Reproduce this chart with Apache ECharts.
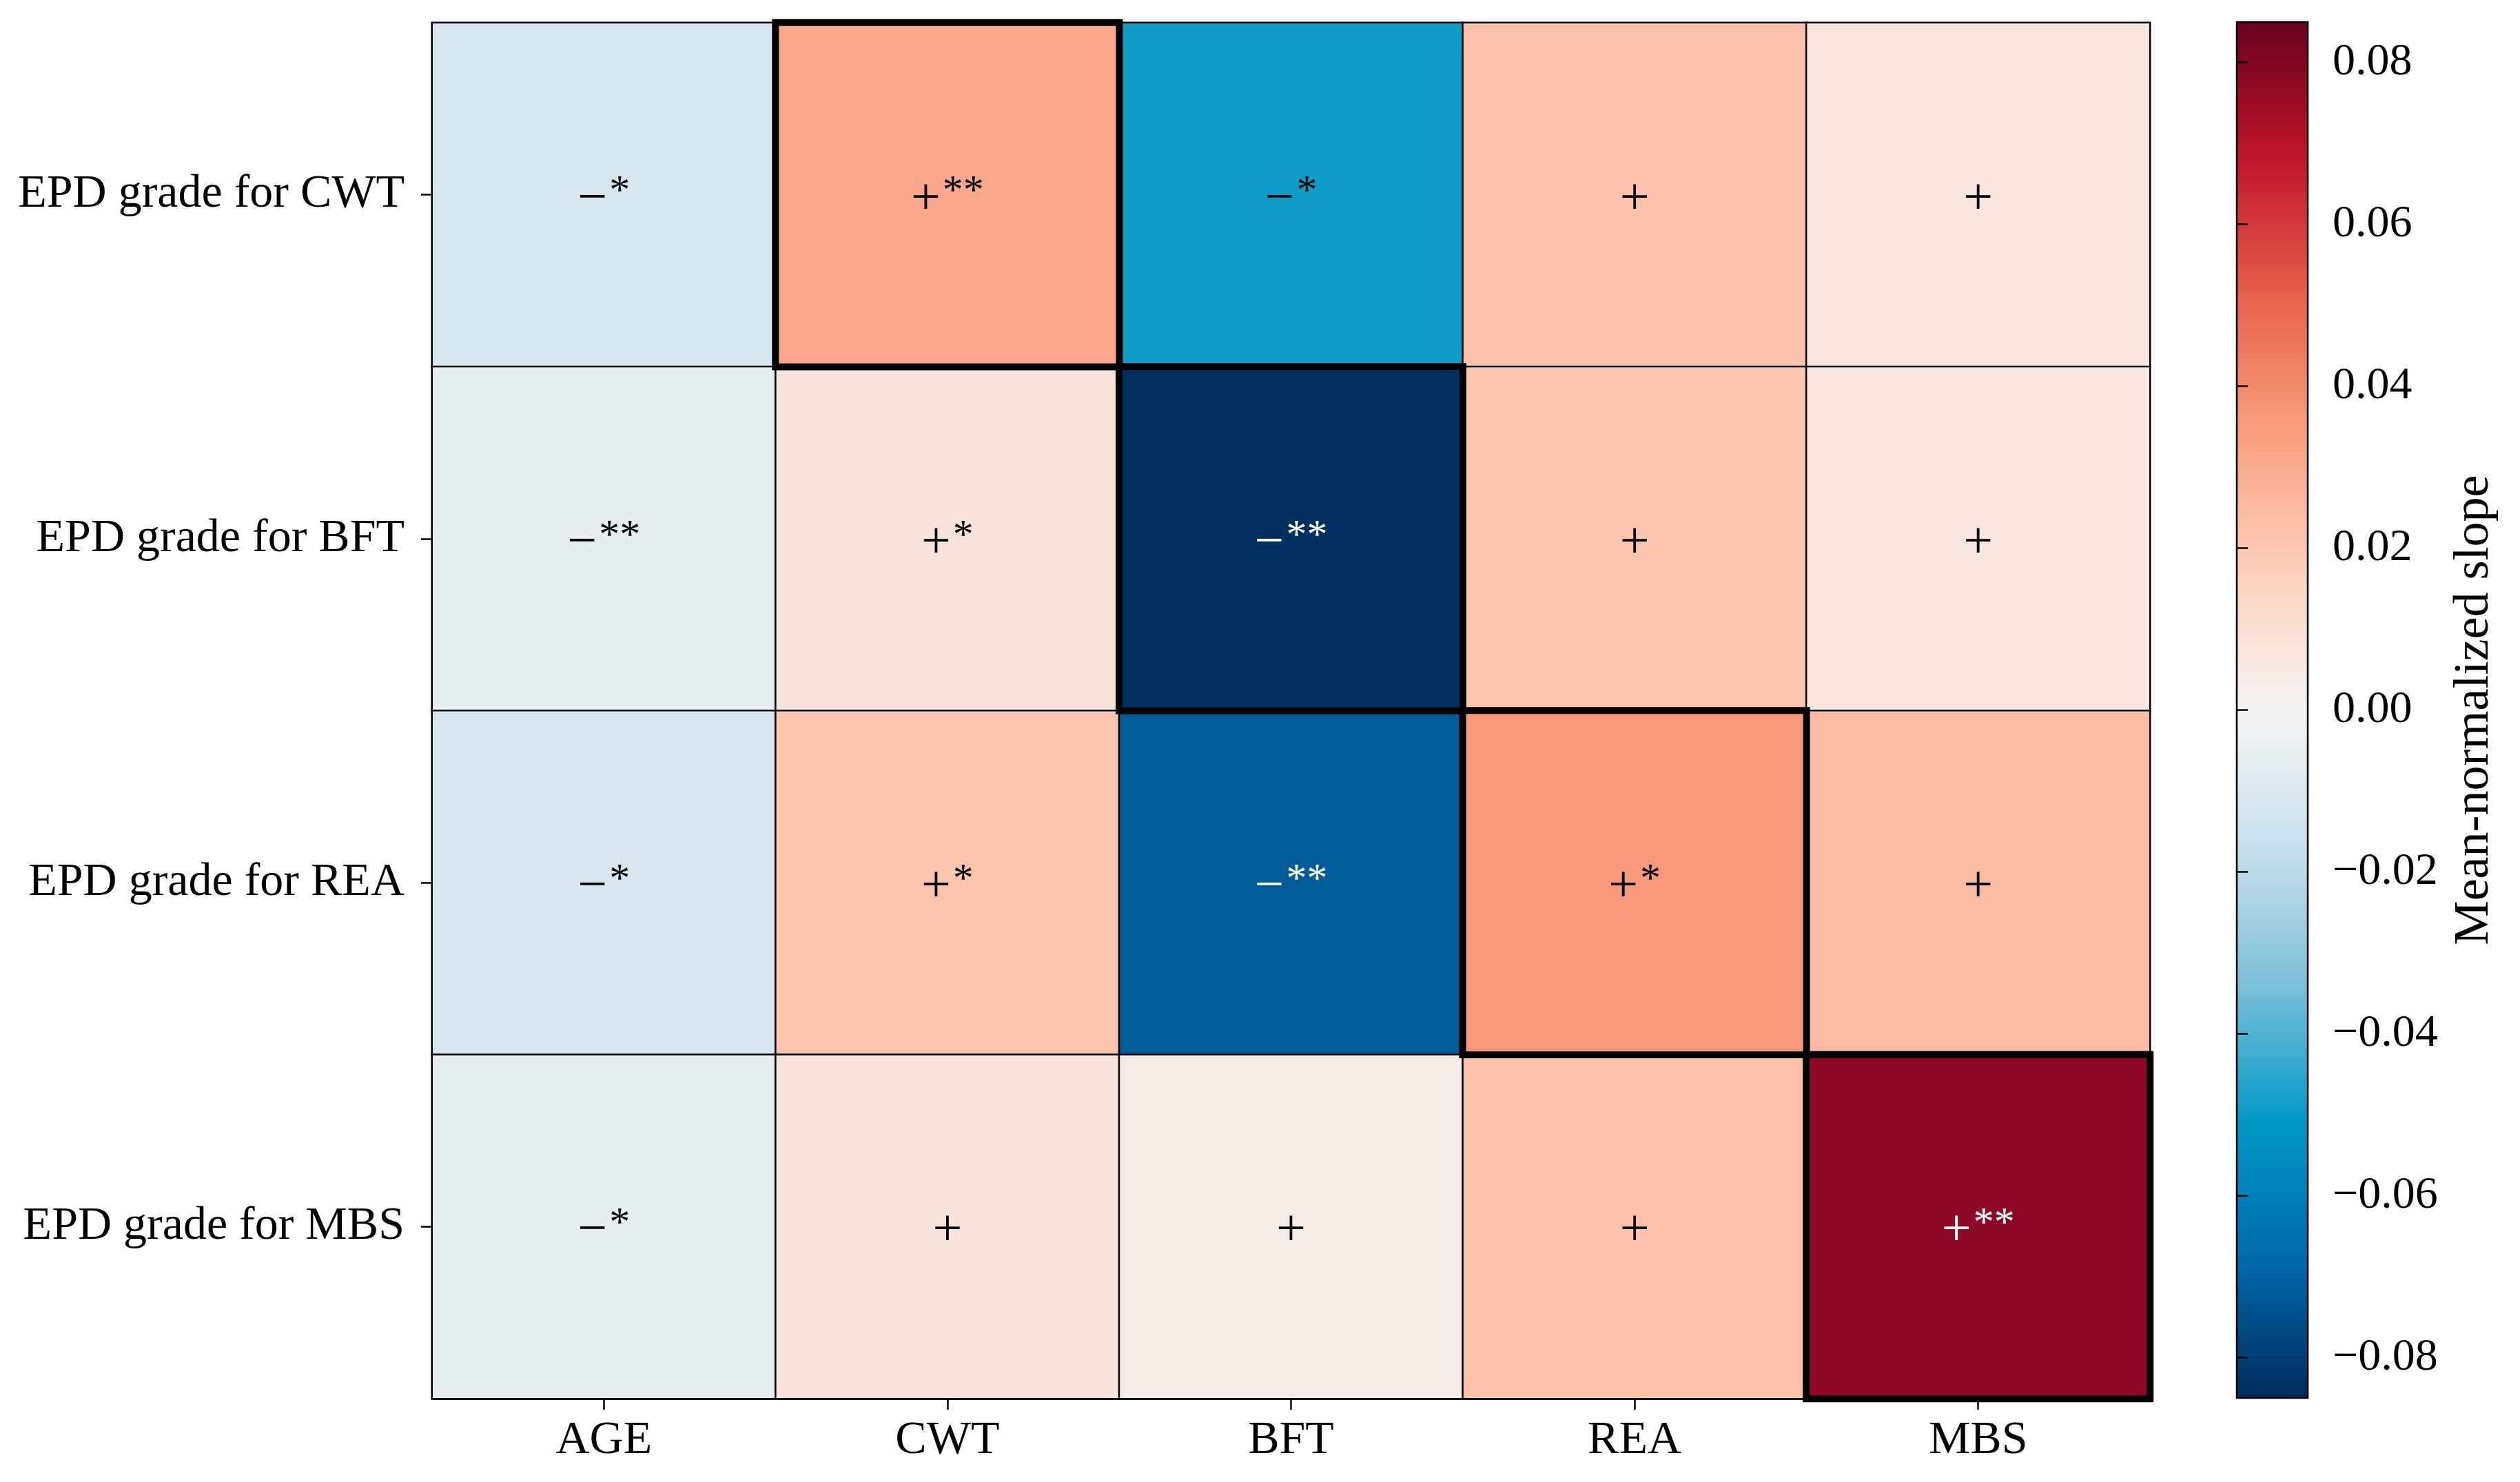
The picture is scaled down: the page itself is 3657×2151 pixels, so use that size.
<!DOCTYPE html>
<html><head><meta charset="utf-8">
<script src="https://cdn.jsdelivr.net/npm/echarts@6/dist/echarts.min.js"></script>
<style>html,body{margin:0;padding:0;background:#fff}#c{width:3657px;height:2151px}</style>
</head><body><div id="c"></div>
<script>
// ---- data ----
const traits = ['AGE', 'CWT', 'BFT', 'REA', 'MBS'];
const rowLabels = ['EPD grade for CWT', 'EPD grade for BFT', 'EPD grade for REA', 'EPD grade for MBS'];
const slopeCWT = [-0.012, 0.031, -0.049, 0.022, 0.007];
const slopeBFT = [-0.005, 0.008, -0.084, 0.021, 0.006];
const slopeREA = [-0.011, 0.021, -0.072, 0.036, 0.024];
const slopeMBS = [-0.006, 0.008, 0.004, 0.022, 0.078];
const signCWT = ['−', '+', '−', '+', '+'];
const signBFT = ['−', '+', '−', '+', '+'];
const signREA = ['−', '+', '−', '+', '+'];
const signMBS = ['−', '+', '+', '+', '+'];
const starsCWT = ['*', '**', '*', '', ''];
const starsBFT = ['**', '*', '**', '', ''];
const starsREA = ['*', '*', '**', '*', ''];
const starsMBS = ['*', '', '', '', '**'];
const colorbarTicks = [-0.08, -0.06, -0.04, -0.02, 0, 0.02, 0.04, 0.06, 0.08];
const colorMin = -0.085, colorMax = 0.085;

const slopes = [slopeCWT, slopeBFT, slopeREA, slopeMBS];
const signs = [signCWT, signBFT, signREA, signMBS];
const stars = [starsCWT, starsBFT, starsREA, starsMBS];

const FONT = 'Liberation Serif';
const cellsThin = [], cellsDiag = [];
slopes.forEach((row, r) => row.forEach((v, c) => {
  const item = { value: [c, r, v], sign: signs[r][c], stars: stars[r][c], dark: Math.abs(v) > 0.06 };
  // highlighted cells: each EPD grade against its own trait
  if (traits[c] === rowLabels[r].split(' ').pop()) cellsDiag.push(item);
  else cellsThin.push(item);
}));

function fmt(p) {
  const d = p.data;
  const k = d.dark ? 'w' : 'b';
  return '{s' + k + '|' + d.sign + '}' + (d.stars ? '{t' + k + '|' + d.stars + '}' : '');
}
const rich = {
  sb: { fontFamily: FONT, fontSize: 76, lineHeight: 80, color: '#000' },
  sw: { fontFamily: FONT, fontSize: 76, lineHeight: 80, color: '#fff' },
  tb: { fontFamily: FONT, fontSize: 60, lineHeight: 72, color: '#000', verticalAlign: 'top', padding: [0, 0, 0, 3] },
  tw: { fontFamily: FONT, fontSize: 60, lineHeight: 72, color: '#fff', verticalAlign: 'top', padding: [0, 0, 0, 3] }
};

const chart = echarts.init(document.getElementById('c'), null, { renderer: 'canvas' });
chart.setOption({
  backgroundColor: '#fff',
  animation: false,
  grid: [
    { left: 627, top: 33, width: 2493, height: 1997, show: false },
    { left: 3246, top: 32, width: 103, height: 1997, show: true, borderColor: '#000', borderWidth: 2.5, backgroundColor: 'transparent', z: 10 }
  ],
  xAxis: [
    { type: 'category', data: traits, gridIndex: 0, position: 'bottom',
      axisLine: { show: true, lineStyle: { color: '#000', width: 2.5 } },
      axisTick: { show: true, alignWithLabel: true, length: 16, lineStyle: { color: '#000', width: 2.5 } },
      axisLabel: { fontFamily: FONT, fontSize: 68, color: '#000', margin: 27 },
      splitLine: { show: false }, splitArea: { show: false } },
    { type: 'value', gridIndex: 1, show: false, min: 0, max: 1 }
  ],
  yAxis: [
    { type: 'category', data: rowLabels, gridIndex: 0, inverse: true,
      axisLine: { show: true, lineStyle: { color: '#000', width: 2.5 } },
      axisTick: { show: true, alignWithLabel: true, length: 16, lineStyle: { color: '#000', width: 2.5 } },
      axisLabel: { fontFamily: FONT, fontSize: 68, color: '#000', margin: 40 },
      splitLine: { show: false }, splitArea: { show: false } },
    { type: 'value', gridIndex: 1, position: 'right', min: colorMin, max: colorMax, z: 11,
      axisLine: { show: false },
      splitLine: { show: false },
      axisTick: { show: true, length: 16, customValues: colorbarTicks, lineStyle: { color: '#000', width: 2.5 } },
      axisLabel: { show: true, customValues: colorbarTicks, fontFamily: FONT, fontSize: 66, color: '#000', margin: 36,
        formatter: v => (v < -1e-9 ? '−' : '') + Math.abs(v).toFixed(2) },
      name: 'Mean-normalized slope', nameLocation: 'middle', nameGap: 206, nameRotate: 90,
      nameTextStyle: { fontFamily: FONT, fontSize: 72, color: '#000' } }
  ],
  visualMap: {
    type: 'continuous', min: colorMin, max: colorMax, dimension: 2, seriesIndex: [0, 1],
    calculable: false, hoverLink: false, orient: 'vertical', left: 3246, top: 32,
    itemWidth: 103, itemHeight: 1997, padding: 0, text: null, showLabel: false,
    inRange: { color: ['#002b5c', '#006aa9', '#0099c6', '#7dbfd9', '#c9e0ec', '#f4f4f4',
                       '#fdd0bc', '#f8a080', '#e8614c', '#c0162b', '#6a0020'] }
  },
  series: [
    { type: 'heatmap', xAxisIndex: 0, yAxisIndex: 0, data: cellsThin, z: 2,
      itemStyle: { borderColor: '#000', borderWidth: 2.5 },
      label: { show: true, formatter: fmt, rich: rich, offset: [0, 7] },
      emphasis: { disabled: true } },
    { type: 'heatmap', xAxisIndex: 0, yAxisIndex: 0, data: cellsDiag, z: 3,
      itemStyle: { borderColor: '#000', borderWidth: 10 },
      label: { show: true, formatter: fmt, rich: rich, offset: [0, 7] },
      emphasis: { disabled: true } }
  ]
});
</script></body></html>
